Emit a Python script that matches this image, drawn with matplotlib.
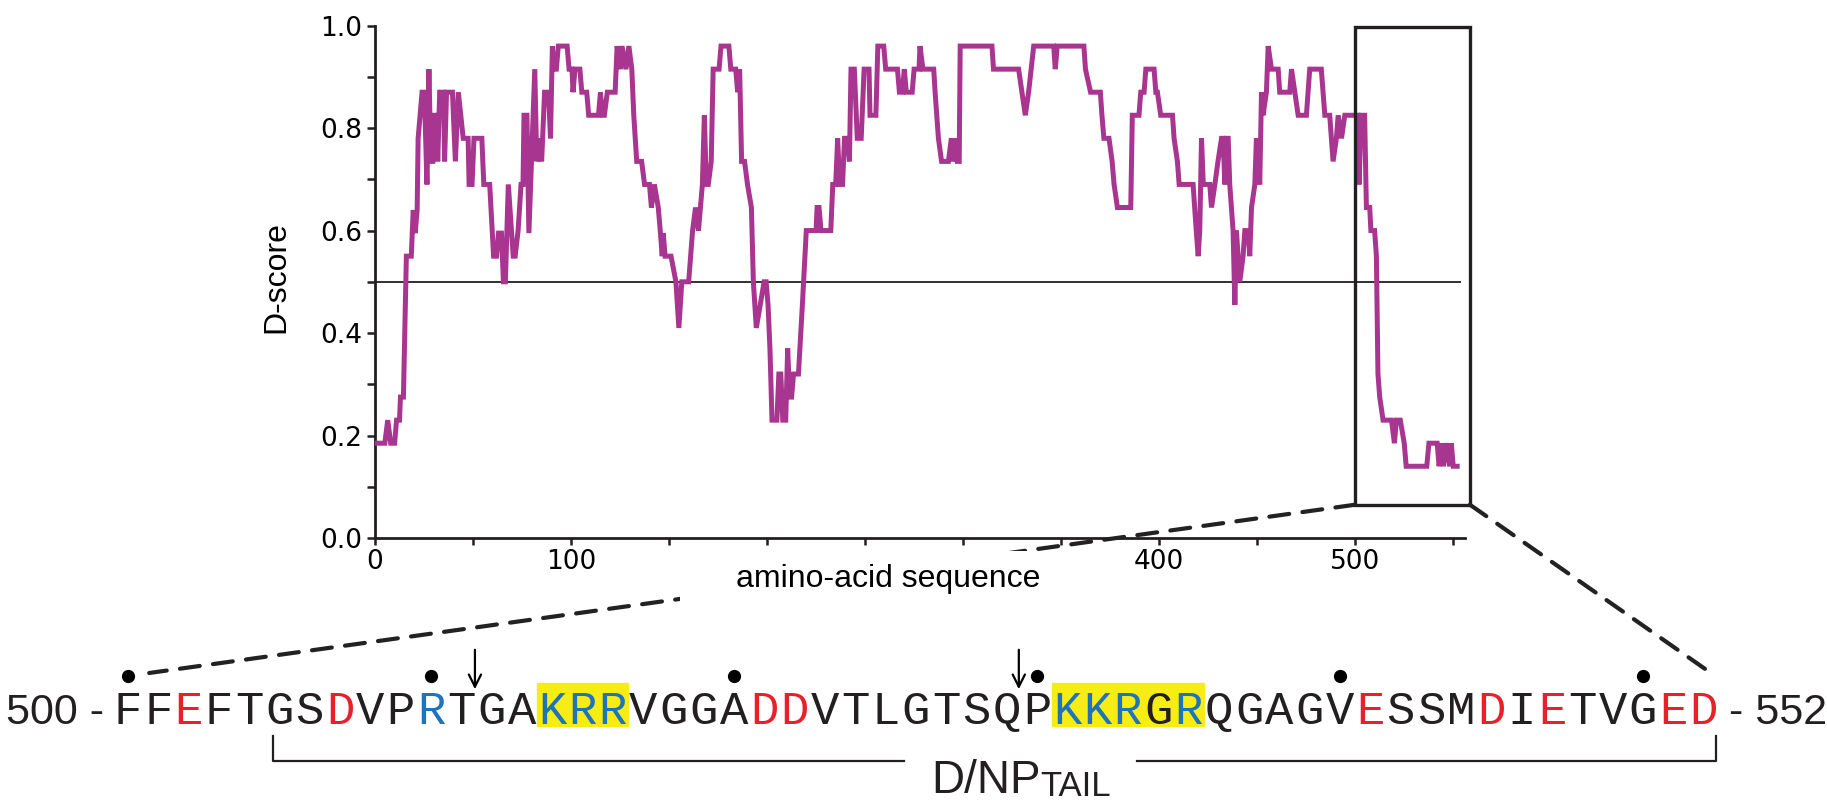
import matplotlib
matplotlib.use('Agg')
import matplotlib.pyplot as plt
from matplotlib.patches import ConnectionPatch, Rectangle


# D-score profile, vertices (residue, score)
pos = [0, 5, 6.5, 8, 10, 11, 12.5, 13, 14.5, 16, 18.5, 19, 19.5, 20.5, 21.5, 22, 24, 25, 25.5, 26.5,
       27.5, 28.5, 29.5, 30.5, 31.5, 32, 33, 35, 35.5, 36.5, 39.5, 41, 42.5, 45, 47.5, 48, 49.5, 50.5,
       54.5, 55.5, 58.5, 60.5, 62, 63, 64.5, 65.5, 66.5, 68, 70.5, 71.5, 73, 74.5, 75.5, 76, 77.5,
       78.5, 81.5, 82.5, 84, 85, 86.5, 88.5, 89.5, 90.5, 91, 92.5, 93.5, 98, 99, 100.5, 101, 102,
       104.5, 105.5, 108, 109, 114, 115, 116, 117, 118.5, 122.5, 123.5, 125, 126, 128, 129.5, 131,
       132, 133.5, 136, 137.5, 140, 141, 142.5, 144.5, 145.5, 146.5, 147, 148, 151, 153.5, 155,
       156.5, 160, 162, 163.5, 165, 166, 167, 168, 169, 170, 171.5, 172.5, 175.5, 176.5, 180.5,
       181.5, 184, 185, 186, 187, 188.5, 190, 192, 193, 194.5, 196.5, 198.5, 199.5, 200.5, 201.5,
       202.5, 205, 206, 207, 208, 209.5, 210.5, 211.5, 212.5, 213.5, 216, 218, 220, 225, 225.5,
       226.5, 227.5, 232.5, 233.5, 235, 236, 237, 238.5, 239.5, 241, 242, 242.8, 244.5, 246, 248,
       249.5, 252, 252.5, 255.5, 256.5, 259.5, 260.5, 266.5, 267.5, 269, 270, 271, 274, 275, 277.5,
       278, 279.5, 285, 285.7, 287.4, 289, 292.5, 294, 295, 296, 297, 298, 298.5, 314.7, 315.5,
       328.3, 330, 331.7, 333.4, 336, 346.2, 347, 348, 361.6, 362.4, 365, 370, 370.8, 371.8, 374.4,
       376, 377, 378.7, 385.5, 386.3, 389.7, 390.6, 392.3, 393.2, 397.4, 398.3, 399.1, 400.8,
       406.8, 407.6, 409.3, 410.2, 417.3, 419, 419.9, 420.7, 421.6, 422.5, 425.8, 426.7, 428.4,
       430, 431.8, 432.6, 433.5, 434.4, 435.2, 436, 437.7, 438.6, 439.4, 441.1, 442.8, 443.7,
       445.4, 446.2, 447.1, 448.8, 449.6, 451.3, 452.2, 453, 454.7, 455.6, 457.3, 460.7, 461.5,
       466.6, 467.5, 469.2, 470.9, 475.1, 476.8, 482.7, 483.6, 484.5, 487, 488.7, 490.4, 491.3,
       493, 494.7, 501.4, 502, 503, 504.8, 505.7, 507.4, 508, 509.9, 510.8, 511.6, 512.5, 514.2,
       518.5, 520, 521, 523, 525, 526, 536.5, 537.6, 541.8, 542.8, 544, 545, 546.5, 548.2, 549,
       550, 552]
dscore = [0.185, 0.185, 0.23, 0.185, 0.185, 0.23, 0.23, 0.275, 0.275, 0.55, 0.55, 0.595, 0.64, 0.595,
          0.64, 0.78, 0.87, 0.87, 0.825, 0.69, 0.915, 0.735, 0.735, 0.825, 0.825, 0.735, 0.87, 0.87,
          0.735, 0.87, 0.87, 0.735, 0.87, 0.78, 0.78, 0.69, 0.69, 0.78, 0.78, 0.69, 0.69, 0.55, 0.55,
          0.595, 0.595, 0.5, 0.5, 0.69, 0.55, 0.55, 0.6, 0.69, 0.69, 0.825, 0.825, 0.595, 0.915,
          0.735, 0.78, 0.735, 0.87, 0.87, 0.78, 0.96, 0.915, 0.915, 0.96, 0.96, 0.915, 0.915, 0.87,
          0.915, 0.915, 0.87, 0.87, 0.825, 0.825, 0.87, 0.825, 0.825, 0.87, 0.87, 0.96, 0.915, 0.96,
          0.915, 0.96, 0.915, 0.825, 0.735, 0.735, 0.69, 0.69, 0.645, 0.69, 0.645, 0.6, 0.55, 0.595,
          0.55, 0.55, 0.5, 0.41, 0.5, 0.5, 0.6, 0.645, 0.6, 0.645, 0.69, 0.825, 0.69, 0.69, 0.735,
          0.915, 0.915, 0.96, 0.96, 0.915, 0.915, 0.87, 0.915, 0.735, 0.735, 0.69, 0.645, 0.5, 0.41,
          0.455, 0.5, 0.5, 0.455, 0.365, 0.23, 0.23, 0.32, 0.32, 0.23, 0.23, 0.37, 0.275, 0.275,
          0.32, 0.32, 0.455, 0.6, 0.6, 0.645, 0.645, 0.6, 0.6, 0.69, 0.69, 0.78, 0.69, 0.69, 0.78,
          0.78, 0.735, 0.915, 0.915, 0.78, 0.78, 0.915, 0.915, 0.825, 0.825, 0.96, 0.96, 0.915,
          0.915, 0.87, 0.87, 0.915, 0.87, 0.87, 0.915, 0.915, 0.96, 0.915, 0.915, 0.87, 0.78, 0.735,
          0.735, 0.78, 0.735, 0.78, 0.735, 0.735, 0.96, 0.96, 0.915, 0.915, 0.87, 0.825, 0.87, 0.96,
          0.96, 0.915, 0.96, 0.96, 0.915, 0.87, 0.87, 0.825, 0.78, 0.78, 0.735, 0.69, 0.645, 0.645,
          0.825, 0.825, 0.87, 0.87, 0.915, 0.915, 0.87, 0.87, 0.825, 0.825, 0.78, 0.735, 0.69, 0.69,
          0.595, 0.55, 0.6, 0.78, 0.69, 0.69, 0.645, 0.69, 0.735, 0.78, 0.78, 0.69, 0.78, 0.78, 0.69,
          0.6, 0.455, 0.6, 0.5, 0.55, 0.6, 0.6, 0.55, 0.645, 0.69, 0.78, 0.69, 0.87, 0.825, 0.87,
          0.96, 0.915, 0.915, 0.87, 0.87, 0.915, 0.87, 0.825, 0.825, 0.915, 0.915, 0.87, 0.825,
          0.825, 0.735, 0.78, 0.825, 0.78, 0.825, 0.825, 0.69, 0.825, 0.825, 0.645, 0.645, 0.6, 0.6,
          0.55, 0.32, 0.275, 0.23, 0.23, 0.185, 0.23, 0.23, 0.185, 0.14, 0.14, 0.185, 0.185, 0.14,
          0.185, 0.14, 0.185, 0.14, 0.185, 0.14, 0.14]
threshold = 0.5

# boxed region of the profile
zoom_x = [500, 558.5]
zoom_y = [0.065, 0.997]

# C-terminal sequence 500-552
seq_start, seq_end = 500, 552
sequence = 'FFEFTGSDVPRTGAKRRVGGADDVTLGTSQPKKRGRQGAGVESSMDIETVGED'
acidic = [2, 7, 21, 22, 41, 45, 47, 51, 52]     # red letters (index in sequence)
basic = [10, 14, 15, 16, 31, 32, 33, 35]         # blue letters
highlight = [(14, 16), (31, 35)]                 # yellow boxes
dot_res = [500, 510, 520, 530, 540, 550]
arrow_res = [511.45, 529.4]
tail = [504.8, 552.4]

W, H = 1827, 800
purple = '#A8358F'
dark = '#231F20'

fig = plt.figure(figsize=(W / 100, H / 100), dpi=100)

# ---- D-score profile ----
ax = fig.add_axes([375 / W, 1 - 538 / H, 1090 / W, 512.4 / H])
ax.plot(pos, dscore, color=purple, lw=3.6, solid_joinstyle='miter', zorder=3)
ax.hlines(threshold, 0, 554, color=dark, lw=1.3, zorder=2)
ax.set_xlim(0, 556)
ax.set_ylim(0, 1)
for s in ['top', 'right']:
    ax.spines[s].set_visible(False)
for s in ['left', 'bottom']:
    ax.spines[s].set_linewidth(2)
    ax.spines[s].set_color(dark)

xt = list(range(0, 551, 50))
ax.set_xticks(xt)
ax.set_xticklabels([str(t) if t in (0, 100, 400, 500) else '' for t in xt])
yt = [i / 10 for i in range(11)]
ax.set_yticks(yt)
ax.set_yticklabels(['%.1f' % v if i % 2 == 0 else '' for i, v in enumerate(yt)])
ax.tick_params(axis='both', direction='out', width=1.8, color=dark, labelsize=19)
ax.tick_params(axis='y', length=6, pad=3)
ax.tick_params(axis='x', length=5, pad=3)

ax.add_patch(Rectangle((zoom_x[0], zoom_y[0]), zoom_x[1] - zoom_x[0], zoom_y[1] - zoom_y[0],
                       fill=False, lw=2.4, ec=dark, clip_on=False, zorder=4))

fig.text(276 / W, 1 - 277 / H, 'D-score', rotation=90, ha='center', va='center',
         fontsize=23, family='Liberation Sans')

# ---- sequence panel ----
cell = 30.3
x0 = 128
sx = fig.add_axes([0, 0, 1, 1])
sx.set_xlim(seq_start - x0 / cell, seq_start + (W - x0) / cell)
sx.set_ylim(H, 0)
sx.axis('off')

for a, b in highlight:
    sx.add_patch(Rectangle((seq_start + a - 0.5, 683), b - a + 1, 43, color='#F7EC13', zorder=0))

for i, aa in enumerate(sequence):
    if i in acidic:
        c = '#E8202A'
    elif i in basic:
        c = '#1C75BC'
    else:
        c = dark
    sx.text(seq_start + i, 724, aa, ha='center', va='baseline', fontsize=34,
            family='Liberation Mono', color=c, zorder=2)

sx.plot(dot_res, [676] * len(dot_res), 'o', ms=8.5, color='black', zorder=3)
for r in arrow_res:
    sx.annotate('', xy=(r, 692), xytext=(r, 647),
                arrowprops=dict(arrowstyle='->', lw=1.6, color='black', mutation_scale=22))

sx.text(seq_start - 0.8, 724, '%d -' % seq_start, ha='right', va='baseline', fontsize=31,
        family='Liberation Sans', color=dark)
sx.text(seq_end + 0.85, 724, '- %d' % seq_end, ha='left', va='baseline', fontsize=31,
        family='Liberation Sans', color=dark)

# D/NP tail bracket
sx.plot([tail[0], tail[0], 525.6], [736, 761, 761], color=dark, lw=1.6)
sx.plot([533.3, tail[1], tail[1]], [761, 761, 736], color=dark, lw=1.6)
t1 = sx.text(526.5, 793, 'D/NP', ha='left', va='baseline', fontsize=33,
             family='Liberation Sans', color=dark)
sx.annotate('TAIL', xy=(1, 0), xycoords=t1, ha='left', va='bottom', fontsize=25,
            family='Liberation Sans', color=dark)

# ---- dashed zoom connectors ----
dash = (0, (4.8, 3.2))
fig.add_artist(ConnectionPatch(xyA=(zoom_x[0], zoom_y[0]), coordsA=ax.transData,
                               xyB=(500.7, 673), coordsB=sx.transData,
                               ls=dash, lw=3, color='#222222', zorder=2))
fig.add_artist(ConnectionPatch(xyA=(zoom_x[1], zoom_y[0]), coordsA=ax.transData,
                               xyB=(552.1, 670), coordsB=sx.transData,
                               ls=dash, lw=3, color='#222222', zorder=2))

# x-axis label sits on a white patch that hides the connector behind it
fig.add_artist(Rectangle((680 / W, 1 - 610 / H), 370 / W, 59 / H, transform=fig.transFigure,
                         fc='white', ec='none', zorder=3))
fig.text(888 / W, 1 - 579 / H, 'amino-acid sequence', ha='center', va='center',
         fontsize=23, family='Liberation Sans', zorder=4)

fig.savefig('out.png', dpi=100)
